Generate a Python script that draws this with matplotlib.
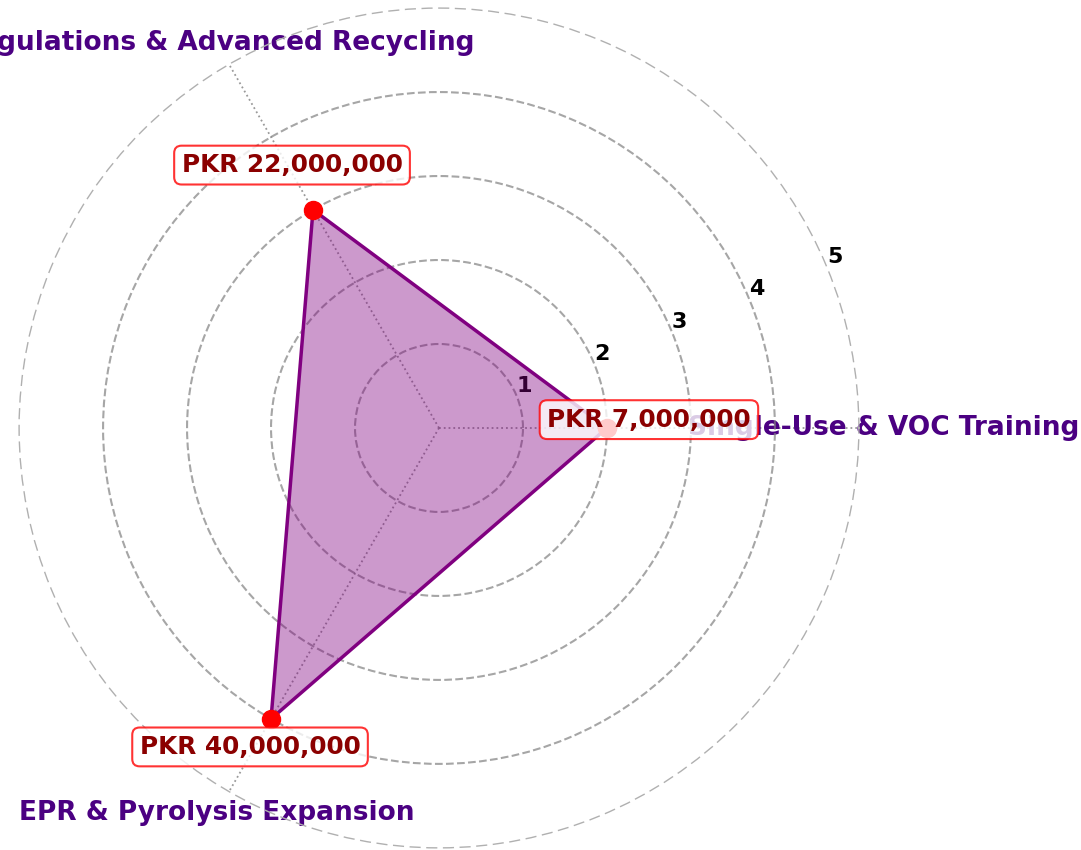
import numpy as np
import matplotlib
matplotlib.use("Agg")
from matplotlib import pyplot as plt

#---------------------------------------------
categories = ["Single-Use & VOC Training",
              "Regulations & Advanced Recycling",
              "EPR & Pyrolysis Expansion"]
scores = [2, 3, 4]
budgets = [7000000, 22000000, 40000000]
rticks = [1, 2, 3, 4, 5]
#---------------------------------------------

n = len(categories)
angles = np.linspace(0, 2 * np.pi, n, endpoint=False)
ang_closed = np.append(angles, angles[0])
val_closed = np.append(scores, scores[0])

fig = plt.figure(figsize=(10.81, 8.5), dpi=100)
ax = fig.add_axes([0.0176, 0.0025, 0.777, 0.988], projection="polar")

ax.fill(ang_closed, val_closed, color="purple", alpha=0.4, zorder=2)
ax.plot(ang_closed, val_closed, color="purple", linewidth=2.5, zorder=3)
ax.plot(angles, scores, "o", color="red", markersize=13, zorder=4)

# value boxes
for a, s, b in zip(angles, scores, budgets):
    ax.annotate(f"PKR {b:,}", xy=(a, s + 0.5), xytext=(0, 6),
                textcoords="offset points", ha="center", va="center",
                fontsize=17.8, fontweight="bold", color="darkred", zorder=5,
                bbox=dict(boxstyle="round,pad=0.3", facecolor="white",
                          edgecolor="red", alpha=0.8, linewidth=1.5))

ax.set_ylim(0, 5)
ax.set_yticks(rticks)
ax.set_yticklabels([str(t) for t in rticks], fontsize=16, fontweight="bold")
ax.set_rlabel_position(22.5)

ax.set_xticks(angles)
ax.set_xticklabels(categories, fontsize=19, fontweight="bold", color="#4B0082")
ax.tick_params(axis="x", pad=7)

ax.yaxis.grid(True, linestyle="--", color="gray", alpha=0.7, linewidth=1.5)
ax.xaxis.grid(True, linestyle=":", color="gray", alpha=0.8, linewidth=1.3)
ax.yaxis.get_gridlines()[-1].set_visible(False)
ax.spines["polar"].set_linestyle((0, (7, 5)))
ax.spines["polar"].set_color("#b0b0b0")
ax.spines["polar"].set_linewidth(1.0)

fig.savefig("out.png", dpi=100)
